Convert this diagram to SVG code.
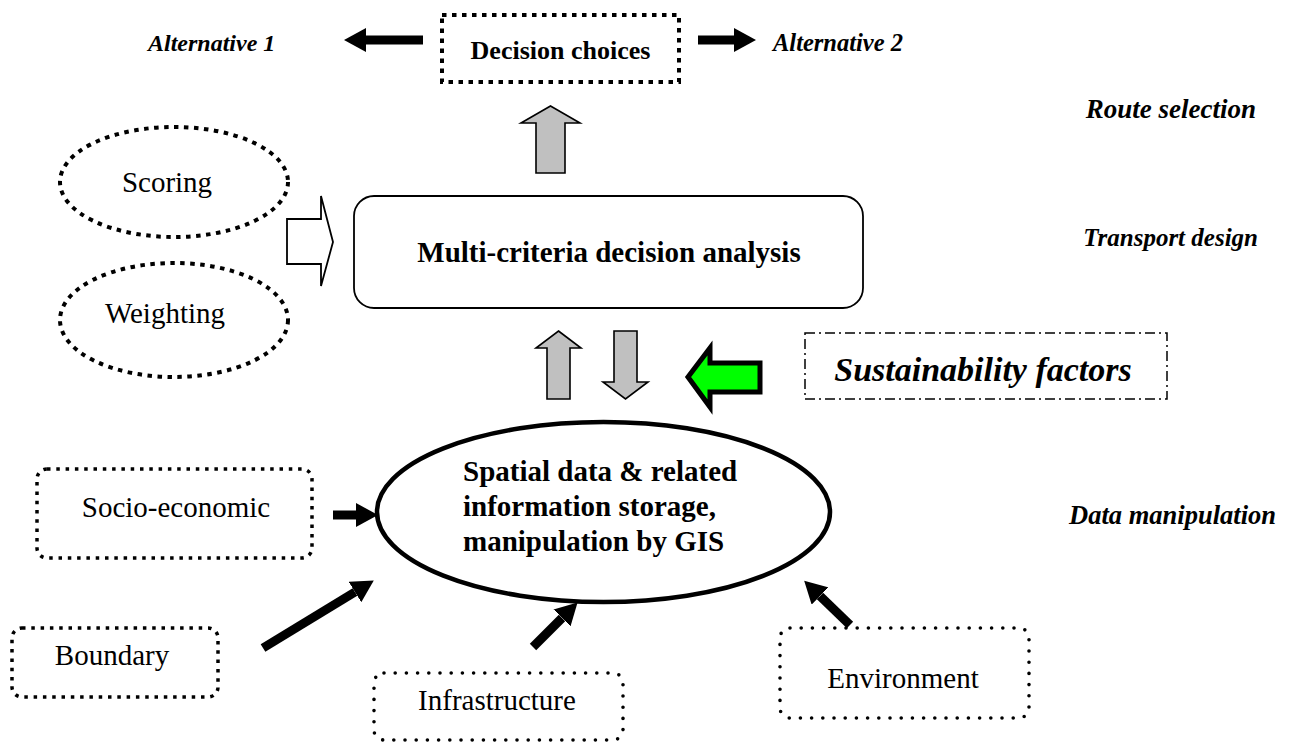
<svg xmlns="http://www.w3.org/2000/svg" width="1291" height="742" viewBox="0 0 1291 742">
  <style>
    text { font-family: "Liberation Serif", "Times New Roman", serif; fill: #000; }
    .lbl { font-size: 29px; }
    .bold { font-weight: bold; }
    .side { font-weight: bold; font-style: italic; }
    .sqdot { fill: none; stroke: #000; stroke-width: 4; stroke-dasharray: 4.5 5.5; }
    .sqdot-sm { fill: none; stroke: #000; stroke-width: 3.5; stroke-dasharray: 3.5 5.8; }
    .rnddot { fill: none; stroke: #000; stroke-width: 3.6; stroke-dasharray: 0 11.2; stroke-linecap: round; }
    .solid { fill: #fff; stroke: #000; stroke-width: 1.8; }
    .grey { fill: #c0c0c0; stroke: #000; stroke-width: 1.6; stroke-linejoin: miter; }
    .shaft { stroke: #000; stroke-width: 9; fill: none; }
  </style>
  <defs>
    <marker id="head" viewBox="0 0 22 24" refX="0" refY="12" markerWidth="22" markerHeight="24" markerUnits="userSpaceOnUse" orient="auto">
      <path d="M0,0 L22,12 L0,24 Z" fill="#000"/>
    </marker>
  </defs>

  <rect width="1291" height="742" fill="#fff"/>

  <!-- stage labels down the right side and the two alternatives -->
  <g id="stage-labels">
    <text class="side" x="148" y="51" font-size="24">Alternative 1</text>
    <text class="side" x="773" y="51" font-size="24.5">Alternative 2</text>
    <text class="side" x="1256" y="118" font-size="27" text-anchor="end">Route selection</text>
    <text class="side" x="1258" y="246" font-size="25" text-anchor="end">Transport design</text>
    <text class="side" x="1276" y="524" font-size="26.5" text-anchor="end">Data manipulation</text>
  </g>

  <g id="decision-choices">
    <rect class="sqdot" x="442" y="15" width="237" height="67"/>
    <text class="bold" x="560.5" y="59" font-size="26" text-anchor="middle">Decision choices</text>
  </g>

  <g id="scoring">
    <ellipse class="sqdot" cx="174" cy="182" rx="114" ry="55"/>
    <text class="lbl" x="167" y="192" text-anchor="middle">Scoring</text>
  </g>

  <g id="weighting">
    <ellipse class="sqdot" cx="174" cy="320" rx="114" ry="57"/>
    <text class="lbl" x="165" y="323" text-anchor="middle">Weighting</text>
  </g>

  <g id="mcda">
    <rect class="solid" x="354" y="196" width="509" height="112" rx="20" ry="20"/>
    <text class="bold" x="609" y="262" font-size="29" text-anchor="middle">Multi-criteria decision analysis</text>
  </g>

  <g id="sustainability">
    <rect x="805" y="333" width="362" height="66" fill="none" stroke="#000" stroke-width="1.5" stroke-dasharray="10 4 2 4"/>
    <text x="983" y="381" font-size="34" font-weight="bold" font-style="italic" text-anchor="middle">Sustainability factors</text>
  </g>

  <g id="gis">
    <ellipse cx="603.5" cy="512" rx="226.5" ry="90" fill="#fff" stroke="#000" stroke-width="4.5"/>
    <text class="bold" x="463" y="481" font-size="29">Spatial data &amp; related</text>
    <text class="bold" x="463" y="516" font-size="29">information storage,</text>
    <text class="bold" x="463" y="551" font-size="29">manipulation by GIS</text>
  </g>

  <g id="socio-economic">
    <rect class="sqdot-sm" x="37" y="469" width="275" height="89" rx="10" ry="10"/>
    <text class="lbl" x="176" y="517" text-anchor="middle">Socio-economic</text>
  </g>

  <g id="boundary">
    <rect class="sqdot-sm" x="12" y="628" width="206" height="69" rx="10" ry="10"/>
    <text class="lbl" x="112" y="665" text-anchor="middle">Boundary</text>
  </g>

  <g id="infrastructure">
    <rect class="rnddot" x="374" y="673" width="249" height="67" rx="10" ry="10"/>
    <text class="lbl" x="497" y="710" text-anchor="middle">Infrastructure</text>
  </g>

  <g id="environment">
    <rect class="rnddot" x="780" y="628" width="249" height="90" rx="10" ry="10"/>
    <text class="lbl" x="903" y="688" text-anchor="middle">Environment</text>
  </g>

  <!-- connectors: black arrows, grey block arrows, green input arrow -->
  <g id="connectors">
    <line class="shaft" x1="423" y1="40" x2="366" y2="40" marker-end="url(#head)"/>
    <line class="shaft" x1="698" y1="40" x2="734" y2="40" marker-end="url(#head)"/>
    <polygon class="grey" points="550.5,106 580,123 565,123 565,173 536,173 536,123 521,123"/>
    <polygon class="solid" points="287,219 321,219 321,196 333,242 321,286 321,264 287,264"/>
    <polygon class="grey" points="558.5,331 581,348 570,348 570,399 547,399 547,348 536,348"/>
    <polygon class="grey" points="614,331 637,331 637,382 648,382 625.5,399 603,382 614,382"/>
    <polygon points="688,377 710,348 710,363 760,363 760,392 710,392 710,407" fill="#00ff00" stroke="#000" stroke-width="5" stroke-linejoin="miter"/>
    <line class="shaft" x1="333" y1="515" x2="356" y2="515" marker-end="url(#head)"/>
    <line class="shaft" x1="263" y1="648" x2="355" y2="592" marker-end="url(#head)"/>
    <line class="shaft" x1="533" y1="647" x2="562" y2="618" marker-end="url(#head)"/>
    <line class="shaft" x1="850" y1="625" x2="820" y2="596" marker-end="url(#head)"/>
  </g>
</svg>
